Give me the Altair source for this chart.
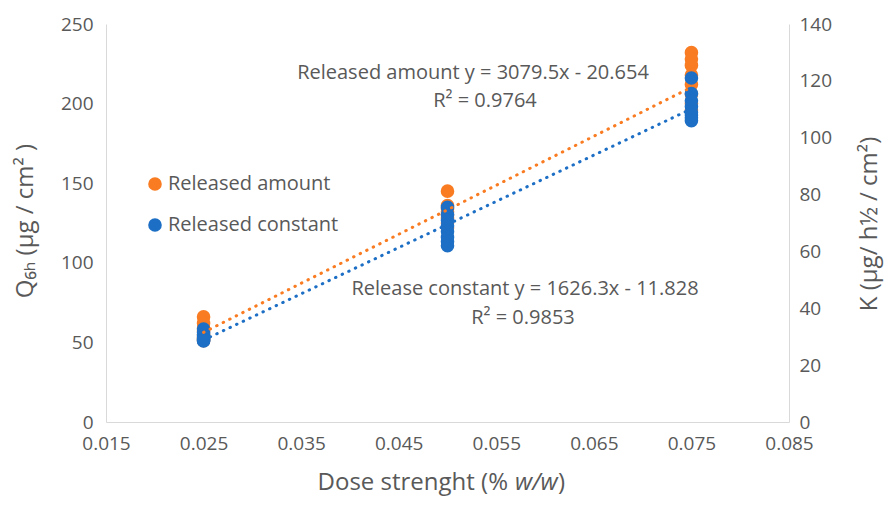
import altair as alt
import pandas as pd

# ---------------- data ----------------
series_names = ["Released amount", "Released constant"]
dose_levels = [0.025, 0.050, 0.075]

amount_at_0025 = [66, 62, 59, 57, 55, 53, 52, 51]
amount_at_0050 = [145, 136, 134, 132, 130, 128, 125, 122]
amount_at_0075 = [232, 228, 224, 218, 212, 206, 200, 196]

constant_at_0025 = [32.7, 31.5, 30.5, 30.0, 29.5, 29.0, 28.7, 28.5]
constant_at_0050 = [75.5, 73.0, 71.0, 69.0, 67.0, 65.0, 63.5, 62.0]
constant_at_0075 = [121.0, 115.5, 113.0, 111.0, 109.0, 108.0, 107.0, 106.0]

trend_slopes = [3079.5, 1626.3]
trend_intercepts = [-20.654, -11.828]
trend_labels = ["Released amount y = 3079.5x - 20.654", "Release constant y = 1626.3x - 11.828"]
r2_labels = ["R² = 0.9764", "R² = 0.9853"]

x_ticks = [0.015, 0.025, 0.035, 0.045, 0.055, 0.065, 0.075, 0.085]
left_ticks = [0, 50, 100, 150, 200, 250]
right_ticks = [0, 20, 40, 60, 80, 100, 120, 140]

# ---------------- styling ----------------
ORANGE = "#F97C22"
BLUE = "#1D6FC5"
TEXT = "#595959"
AXIS = "#D9D9D9"
FONT = "Open Sans"
TICK_SIZE = 19
TITLE_SIZE = 24


def points_frame(groups):
    rows = []
    for d, vals in zip(dose_levels, groups):
        for v in vals:
            rows.append({"dose": d, "value": v})
    return pd.DataFrame(rows)


amount_df = points_frame([amount_at_0025, amount_at_0050, amount_at_0075])
constant_df = points_frame([constant_at_0025, constant_at_0050, constant_at_0075])


def trend_frame(slope, intercept):
    xs = [min(dose_levels), max(dose_levels)]
    return pd.DataFrame({"dose": xs, "value": [slope * x + intercept for x in xs]})


amount_trend = trend_frame(trend_slopes[0], trend_intercepts[0])
constant_trend = trend_frame(trend_slopes[1], trend_intercepts[1])

x_enc = alt.X(
    "dose:Q",
    scale=alt.Scale(domain=[0.015, 0.085], nice=False, zero=False),
    axis=alt.Axis(values=x_ticks, format=".3f", title=None, labelPadding=12,
                  labelFontSize=TICK_SIZE, labelFlush=False, labelOverlap=False),
)

left_scale = alt.Scale(domain=[0, 250], nice=False)
right_scale = alt.Scale(domain=[0, 140], nice=False)

orange_pts = alt.Chart(amount_df).mark_circle(size=185, opacity=1, color=ORANGE).encode(
    x=x_enc,
    y=alt.Y("value:Q", scale=left_scale,
            axis=alt.Axis(orient="left", values=left_ticks, title=None, labelPadding=13,
                          labelFontSize=TICK_SIZE, labelFlush=False, labelOverlap=False)),
)
blue_pts = alt.Chart(constant_df).mark_circle(size=185, opacity=1, color=BLUE).encode(
    x=x_enc,
    y=alt.Y("value:Q", scale=right_scale,
            axis=alt.Axis(orient="right", values=right_ticks, title=None, labelPadding=10,
                          labelFontSize=TICK_SIZE, labelFlush=False, labelOverlap=False)),
)

line_style = dict(strokeWidth=3, strokeDash=[0.5, 6.8], strokeCap="round")
orange_line = alt.Chart(amount_trend).mark_line(color=ORANGE, **line_style).encode(
    x=x_enc, y=alt.Y("value:Q", scale=left_scale, axis=None)
)
blue_line = alt.Chart(constant_trend).mark_line(color=BLUE, **line_style).encode(
    x=x_enc, y=alt.Y("value:Q", scale=right_scale, axis=None)
)

one = pd.DataFrame({"k": [0]})


def label(text, x, y, align="center", angle=0, size=20, style="normal"):
    return alt.Chart(one).mark_text(
        text=text, align=align, baseline="middle", font=FONT, fontSize=size,
        color=TEXT, angle=angle, fontStyle=style,
    ).encode(x=alt.value(x), y=alt.value(y))


def dot(color, x, y):
    return alt.Chart(one).mark_circle(size=185, opacity=1, color=color).encode(
        x=alt.value(x), y=alt.value(y)
    )


annotations = [
    label(trend_labels[0], 367, 49),
    label(r2_labels[0], 379, 77),
    label(trend_labels[1], 419, 265),
    label(r2_labels[1], 417, 294),
    dot(ORANGE, 49, 160),
    label(series_names[0], 62, 160, align="left"),
    dot(BLUE, 49, 201),
    label(series_names[1], 62, 201, align="left"),
    label("Q₆ₕ (µg / cm² )", -80, 197, angle=270, size=TITLE_SIZE),
    label("K (µg/ h½ / cm²)", 764, 200, angle=270, size=TITLE_SIZE),
    label("Dose strenght (%", 402, 459, align="right", size=TITLE_SIZE),
    label("w/w", 409, 459, align="left", style="italic", size=TITLE_SIZE),
    label(")", 452, 459, align="left", size=TITLE_SIZE),
]

chart = alt.layer(orange_pts, blue_pts, orange_line, blue_line, *annotations).resolve_scale(
    y="independent"
).properties(
    width=683,
    height=398,
    padding={"left": 98, "top": 16, "right": 95, "bottom": 74},
    autosize=alt.AutoSizeParams(type="none"),
).configure_view(stroke=None).configure_axis(
    domainColor=AXIS,
    domainWidth=1,
    ticks=False,
    grid=False,
    labelColor=TEXT,
    labelFont=FONT,
)

chart.save("out.html", embed_options={"renderer": "svg", "actions": False})
